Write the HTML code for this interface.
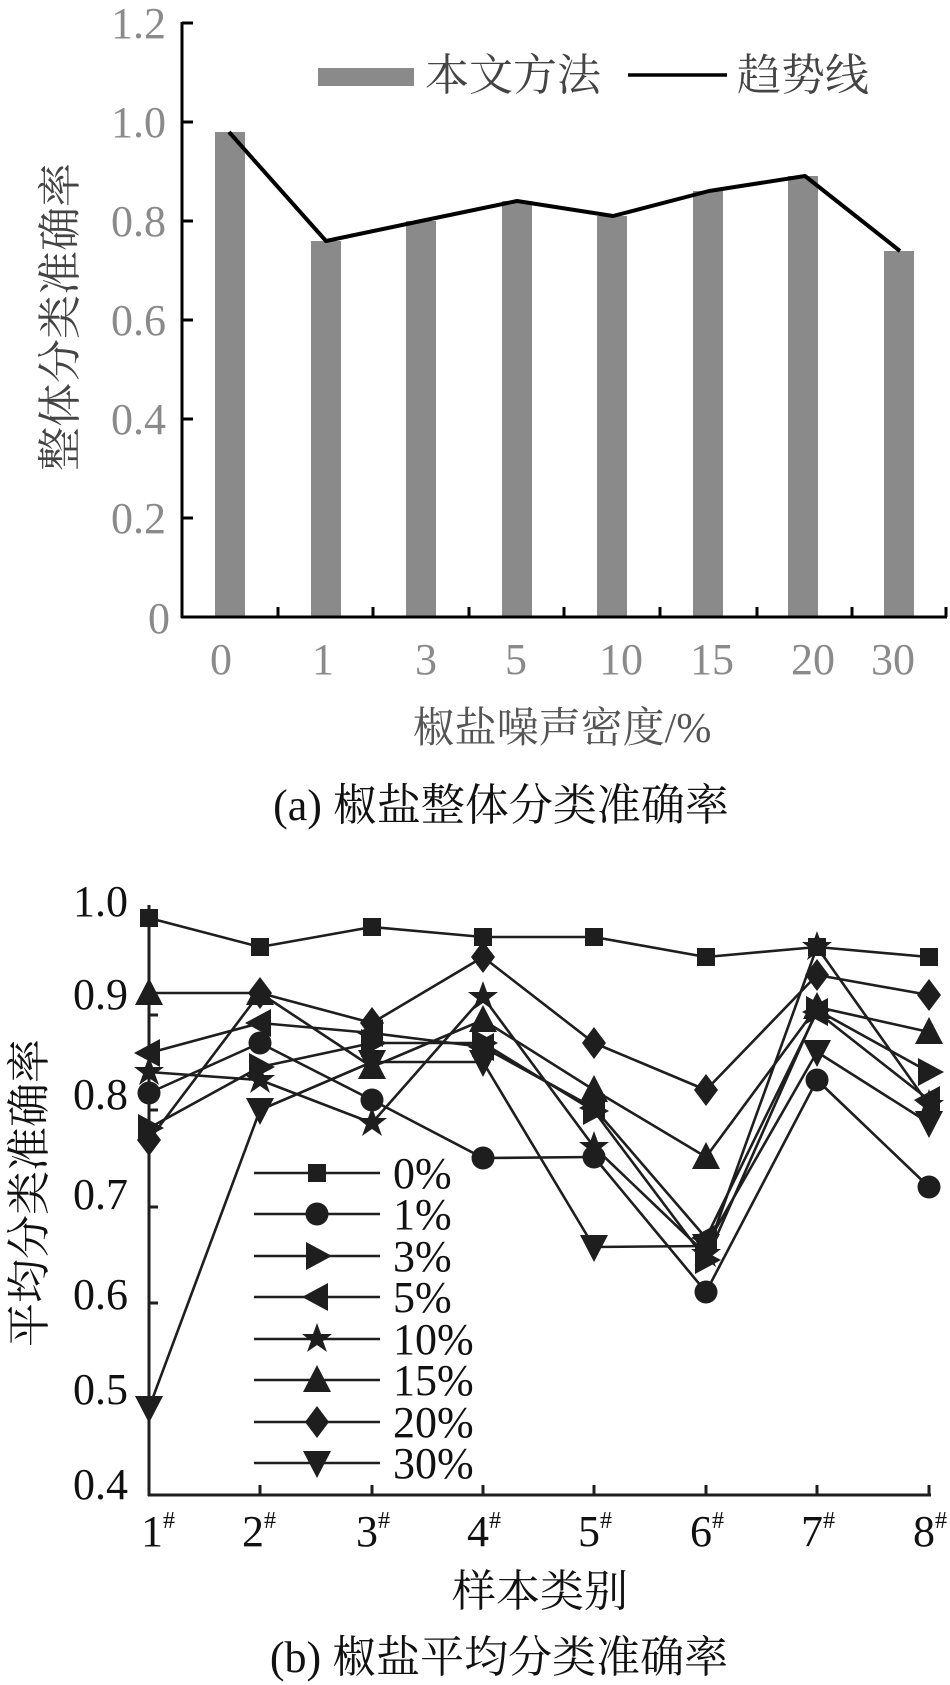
<!DOCTYPE html>
<html><head><meta charset="utf-8"><style>
html,body{margin:0;padding:0;background:#fff;}
svg{display:block;}
.s{font-family:"Liberation Serif","Noto Serif CJK SC",serif;}
.c{font-family:"Liberation Serif","Noto Serif CJK SC","Noto Sans CJK SC",serif;}
</style></head><body>
<svg width="950" height="1685" viewBox="0 0 950 1685" xmlns="http://www.w3.org/2000/svg">
<defs>
<g id="sq"><rect x="-9" y="-9" width="18" height="18" fill="#1e1e1e"/></g>
<g id="ci"><circle r="11.5" fill="#1e1e1e"/></g>
<g id="rt"><polygon points="-11,-14 15,0 -11,14" fill="#1e1e1e"/></g>
<g id="lt"><polygon points="11,-14 -15,0 11,14" fill="#1e1e1e"/></g>
<g id="st"><polygon points="0,-16 4,-5 15,-5 6,2 10,13 0,6 -10,13 -6,2 -15,-5 -4,-5" fill="#1e1e1e"/></g>
<g id="ut"><polygon points="0,-15 14,12 -14,12" fill="#1e1e1e"/></g>
<g id="di"><polygon points="0,-16 12,0 0,16 -12,0" fill="#1e1e1e"/></g>
<g id="dt"><polygon points="0,15 14,-12 -14,-12" fill="#1e1e1e"/></g>
</defs>

<!-- ===== Chart (a) ===== -->
<g fill="#8a8a8a">
<rect x="215" y="132" width="30" height="485"/>
<rect x="311" y="241" width="30" height="376"/>
<rect x="406" y="221" width="30" height="396"/>
<rect x="502" y="201" width="30" height="416"/>
<rect x="597" y="216" width="30" height="401"/>
<rect x="693" y="191" width="30" height="426"/>
<rect x="788" y="176" width="30" height="441"/>
<rect x="884" y="251" width="30" height="366"/>
</g>
<polyline points="229,132 326,241 421,221 517,201 613,216 709,191 805,176 900,251" fill="none" stroke="#000" stroke-width="4" stroke-linejoin="round"/>
<g stroke="#000" stroke-width="3" fill="none">
<line x1="182" y1="22" x2="182" y2="618"/>
<line x1="181" y1="617" x2="947" y2="617"/>
<line x1="182" y1="23" x2="193" y2="23"/>
<line x1="182" y1="122" x2="193" y2="122"/>
<line x1="182" y1="221" x2="193" y2="221"/>
<line x1="182" y1="320" x2="193" y2="320"/>
<line x1="182" y1="419" x2="193" y2="419"/>
<line x1="182" y1="518" x2="193" y2="518"/>
<line x1="278" y1="617" x2="278" y2="607"/>
<line x1="373" y1="617" x2="373" y2="607"/>
<line x1="469" y1="617" x2="469" y2="607"/>
<line x1="564" y1="617" x2="564" y2="607"/>
<line x1="660" y1="617" x2="660" y2="607"/>
<line x1="757" y1="617" x2="757" y2="607"/>
<line x1="852" y1="617" x2="852" y2="607"/>
<line x1="946" y1="617" x2="946" y2="607"/>
</g>
<g class="s" font-size="44" fill="#8a8a8a" text-anchor="end">
<text x="166" y="38">1.2</text>
<text x="166" y="137">1.0</text>
<text x="166" y="236">0.8</text>
<text x="166" y="335">0.6</text>
<text x="166" y="434">0.4</text>
<text x="166" y="533">0.2</text>
<text x="170" y="633">0</text>
</g>
<g class="s" font-size="44" fill="#8a8a8a" text-anchor="middle">
<text x="221" y="674">0</text>
<text x="323" y="674">1</text>
<text x="426" y="674">3</text>
<text x="516" y="674">5</text>
<text x="621" y="674">10</text>
<text x="712" y="674">15</text>
<text x="813" y="674">20</text>
<text x="893" y="674">30</text>
</g>
<rect x="318" y="68" width="96" height="18" fill="#8a8a8a"/>
<text class="c" x="425" y="90" font-size="44" fill="#444">本文方法</text>
<line x1="628" y1="75" x2="727" y2="75" stroke="#000" stroke-width="3.5"/>
<text class="c" x="737" y="90" font-size="44" fill="#444">趋势线</text>
<text class="c" transform="translate(75,317) rotate(-90)" font-size="44" fill="#444" text-anchor="middle">整体分类准确率</text>
<text class="c" x="562" y="742" font-size="42" fill="#555" text-anchor="middle">椒盐噪声密度/%</text>
<text class="c" x="501" y="820" font-size="44" fill="#111" text-anchor="middle">(a) 椒盐整体分类准确率</text>

<!-- ===== Chart (b) ===== -->
<g stroke="#1e1e1e" stroke-width="3" fill="none">
<line x1="149" y1="905" x2="149" y2="1496"/>
<line x1="148" y1="1495" x2="931" y2="1495"/>
<line x1="149" y1="919" x2="158" y2="919"/>
<line x1="149" y1="1015" x2="158" y2="1015"/>
<line x1="149" y1="1110" x2="158" y2="1110"/>
<line x1="149" y1="1207" x2="158" y2="1207"/>
<line x1="149" y1="1303" x2="158" y2="1303"/>
<line x1="149" y1="1399" x2="158" y2="1399"/>
<line x1="260" y1="1495" x2="260" y2="1485"/>
<line x1="372" y1="1495" x2="372" y2="1485"/>
<line x1="483" y1="1495" x2="483" y2="1485"/>
<line x1="594" y1="1495" x2="594" y2="1485"/>
<line x1="706" y1="1495" x2="706" y2="1485"/>
<line x1="817" y1="1495" x2="817" y2="1485"/>
<line x1="929" y1="1495" x2="929" y2="1485"/>
</g>
<g class="s" font-size="44" fill="#111" text-anchor="end">
<text x="128" y="916">1.0</text>
<text x="128" y="1009">0.9</text>
<text x="128" y="1109">0.8</text>
<text x="128" y="1209">0.7</text>
<text x="128" y="1309">0.6</text>
<text x="128" y="1404">0.5</text>
<text x="128" y="1499">0.4</text>
</g>
<g fill="none" stroke="#1e1e1e" stroke-width="2.6" stroke-linejoin="round">
<polyline points="149,918 260,947 372,927 483,937 594,937 706,957 817,947 929,957"/>
<polyline points="149,1093 260,1043 372,1100 483,1158 594,1157 706,1292 817,1080 929,1187"/>
<polyline points="149,1128 260,1067 372,1043 483,1043 594,1111 706,1260 817,1010 929,1072"/>
<polyline points="149,1053 260,1023 372,1033 483,1047 594,1108 706,1238 817,1012 929,1100"/>
<polyline points="149,1072 260,1080 372,1123 483,997 594,1147 706,1254 817,947 929,1105"/>
<polyline points="149,993 260,993 372,1067 483,1020 594,1090 706,1157 817,1007 929,1032"/>
<polyline points="149,1140 260,993 372,1023 483,957 594,1043 706,1090 817,975 929,995"/>
<polyline points="149,1408 260,1110 372,1062 483,1062 594,1247 706,1246 817,1052 929,1123"/>
</g>
<g>
<use href="#sq" x="149" y="918"/><use href="#sq" x="260" y="947"/><use href="#sq" x="372" y="927"/><use href="#sq" x="483" y="937"/><use href="#sq" x="594" y="937"/><use href="#sq" x="706" y="957"/><use href="#sq" x="817" y="947"/><use href="#sq" x="929" y="957"/>
<use href="#ci" x="149" y="1093"/><use href="#ci" x="260" y="1043"/><use href="#ci" x="372" y="1100"/><use href="#ci" x="483" y="1158"/><use href="#ci" x="594" y="1157"/><use href="#ci" x="706" y="1292"/><use href="#ci" x="817" y="1080"/><use href="#ci" x="929" y="1187"/>
<use href="#rt" x="149" y="1128"/><use href="#rt" x="260" y="1067"/><use href="#rt" x="372" y="1043"/><use href="#rt" x="483" y="1043"/><use href="#rt" x="594" y="1111"/><use href="#rt" x="706" y="1260"/><use href="#rt" x="817" y="1010"/><use href="#rt" x="929" y="1072"/>
<use href="#lt" x="149" y="1053"/><use href="#lt" x="260" y="1023"/><use href="#lt" x="372" y="1033"/><use href="#lt" x="483" y="1047"/><use href="#lt" x="594" y="1108"/><use href="#lt" x="706" y="1238"/><use href="#lt" x="817" y="1012"/><use href="#lt" x="929" y="1100"/>
<use href="#st" x="149" y="1072"/><use href="#st" x="260" y="1080"/><use href="#st" x="372" y="1123"/><use href="#st" x="483" y="997"/><use href="#st" x="594" y="1147"/><use href="#st" x="706" y="1254"/><use href="#st" x="817" y="947"/><use href="#st" x="929" y="1105"/>
<use href="#ut" x="149" y="993"/><use href="#ut" x="260" y="993"/><use href="#ut" x="372" y="1067"/><use href="#ut" x="483" y="1020"/><use href="#ut" x="594" y="1090"/><use href="#ut" x="706" y="1157"/><use href="#ut" x="817" y="1007"/><use href="#ut" x="929" y="1032"/>
<use href="#di" x="149" y="1140"/><use href="#di" x="260" y="993"/><use href="#di" x="372" y="1023"/><use href="#di" x="483" y="957"/><use href="#di" x="594" y="1043"/><use href="#di" x="706" y="1090"/><use href="#di" x="817" y="975"/><use href="#di" x="929" y="995"/>
<use href="#dt" x="149" y="1408"/><use href="#dt" x="260" y="1110"/><use href="#dt" x="372" y="1062"/><use href="#dt" x="483" y="1062"/><use href="#dt" x="594" y="1247"/><use href="#dt" x="706" y="1246"/><use href="#dt" x="817" y="1052"/><use href="#dt" x="929" y="1123"/>
</g>
<!-- legend -->
<g stroke="#1e1e1e" stroke-width="2.6">
<line x1="254" y1="1173" x2="380" y2="1173"/>
<line x1="254" y1="1214" x2="380" y2="1214"/>
<line x1="254" y1="1256" x2="380" y2="1256"/>
<line x1="254" y1="1297" x2="380" y2="1297"/>
<line x1="254" y1="1339" x2="380" y2="1339"/>
<line x1="254" y1="1380" x2="380" y2="1380"/>
<line x1="254" y1="1422" x2="380" y2="1422"/>
<line x1="254" y1="1463" x2="380" y2="1463"/>
</g>
<use href="#sq" x="317" y="1173"/><use href="#ci" x="317" y="1214"/><use href="#rt" x="317" y="1256"/><use href="#lt" x="317" y="1297"/>
<use href="#st" x="317" y="1339"/><use href="#ut" x="317" y="1380"/><use href="#di" x="317" y="1422"/><use href="#dt" x="317" y="1463"/>
<g class="s" font-size="44" fill="#111">
<text x="393" y="1188">0%</text>
<text x="393" y="1229">1%</text>
<text x="393" y="1271">3%</text>
<text x="393" y="1312">5%</text>
<text x="393" y="1354">10%</text>
<text x="393" y="1395">15%</text>
<text x="393" y="1437">20%</text>
<text x="393" y="1478">30%</text>
</g>
<g class="s" font-size="44" fill="#111">
<text x="141" y="1546">1<tspan font-size="24" dy="-18">#</tspan></text>
<text x="242" y="1546">2<tspan font-size="24" dy="-18">#</tspan></text>
<text x="356" y="1546">3<tspan font-size="24" dy="-18">#</tspan></text>
<text x="467" y="1546">4<tspan font-size="24" dy="-18">#</tspan></text>
<text x="578" y="1546">5<tspan font-size="24" dy="-18">#</tspan></text>
<text x="690" y="1546">6<tspan font-size="24" dy="-18">#</tspan></text>
<text x="801" y="1546">7<tspan font-size="24" dy="-18">#</tspan></text>
<text x="913" y="1546">8<tspan font-size="24" dy="-18">#</tspan></text>
</g>
<text class="c" transform="translate(44,1193) rotate(-90)" font-size="44" fill="#111" text-anchor="middle">平均分类准确率</text>
<text class="c" x="540" y="1606" font-size="44" fill="#111" text-anchor="middle">样本类别</text>
<text class="c" x="499" y="1672" font-size="44" fill="#111" text-anchor="middle">(b) 椒盐平均分类准确率</text>
</svg>
</body></html>
